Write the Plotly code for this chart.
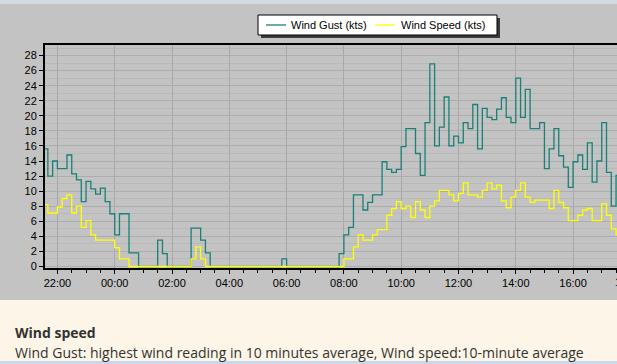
import pandas as pd
import plotly.graph_objects as go

# 10-minute readings starting 21:30
start_time = "2020-01-01 21:30"
wind_gust = [
    15.6, 12.0, 14.0, 13.0, 13.0, 14.8, 12.3, 11.5, 8.6, 11.3,
    10.3, 9.6, 10.4, 8.6, 7.0, 4.2, 7.0, 7.0, 1.8, 1.8,
    0, 0, 0, 0, 3.5, 1.7, 0, 0, 0, 0,
    0, 5.1, 5.1, 3.5, 1.8, 0, 0, 0, 0, 0,
    0, 0, 0, 0, 0, 0, 0, 0, 0, 0,
    1.0, 0, 0, 0, 0, 0, 0, 0, 0, 0,
    0, 0, 1.7, 4.2, 5.2, 9.5, 9.5, 7.5, 8.5, 9.5,
    9.5, 13.9, 12.9, 12.5, 12.9, 15.9, 18.3, 18.3, 15.0, 12.1,
    19.1, 26.9, 16.0, 18.5, 22.5, 16.0, 17.3, 16.4, 19.1, 18.3,
    21.5, 15.6, 21.0, 19.8, 19.5, 20.9, 22.4, 19.8, 19.1, 25.0,
    19.8, 23.5, 18.3, 18.3, 19.1, 13.0, 15.6, 18.3, 14.7, 13.2,
    10.5, 13.9, 14.8, 12.9, 16.4, 11.2, 14.0, 19.1, 12.5, 8.0,
    12.1, 12.0,
]
wind_speed = [
    8.2, 7.1, 7.1, 7.9, 9.0, 9.5, 7.1, 8.0, 5.2, 6.1,
    4.2, 3.5, 3.5, 3.5, 3.5, 2.5, 1.0, 1.0, 0, 0,
    0, 0, 0, 0, 0, 0, 0, 0, 0, 0,
    0, 1.0, 2.6, 1.0, 0, 0, 0, 0, 0, 0,
    0, 0, 0, 0, 0, 0, 0, 0, 0, 0,
    0, 0, 0, 0, 0, 0, 0, 0, 0, 0,
    0, 0, 0, 1.0, 1.0, 2.6, 4.2, 3.5, 3.5, 4.2,
    4.9, 4.9, 6.8, 7.7, 8.6, 7.7, 8.0, 6.5, 8.6, 7.5,
    6.5, 8.0, 8.7, 10.1, 10.1, 9.5, 8.7, 9.7, 11.1, 9.5,
    9.5, 9.2, 10.1, 11.1, 10.3, 10.8, 8.7, 7.8, 9.2, 10.1,
    11.1, 9.2, 8.5, 8.8, 8.8, 8.8, 7.7, 10.1, 8.5, 7.8,
    6.1, 6.1, 6.8, 7.5, 7.7, 6.1, 6.1, 8.3, 6.8, 5.0,
    4.2, 4.2,
]
series_names = ["Wind Gust (kts)", "Wind Speed (kts)"]
series_colors = ["#1a8078", "#ffff00"]
title_text = "Wind speed"
note_text = "Wind Gust: highest wind reading in 10 minutes average, Wind speed:10-minute average"
cut_tick_label = "18:00"

times = pd.date_range(start_time, periods=len(wind_gust), freq="10min")

W, H = 617, 364
ML, MR, MT, MB = 45, 0, 45, 96
PW, PH = W - ML - MR, H - MT - MB


def px(x):
    return (x - ML) / PW


def py(y):
    return (H - MB - y) / PH


fig = go.Figure()
for vals, name, col in zip([wind_gust, wind_speed], series_names, series_colors):
    fig.add_trace(go.Scatter(x=times, y=vals, name=name, mode="lines",
                             line=dict(color=col, width=1.3, shape="hv"), showlegend=False))

grey = "#c3c3c3"
shapes = [
    dict(type="rect", xref="paper", yref="paper", x0=px(0), x1=px(W + 2), y0=py(H), y1=py(300),
         fillcolor="#fdf5e7", line=dict(width=0), layer="below"),
    dict(type="rect", xref="paper", yref="paper", x0=px(0), x1=px(W + 2), y0=py(H), y1=py(361),
         fillcolor="#c9d9ea", line=dict(width=0), layer="below"),
    dict(type="rect", xref="paper", yref="paper", x0=px(0), x1=px(W + 2), y0=py(4), y1=py(0),
         fillcolor="#d3d9e0", line=dict(width=0), layer="below"),
    # legend: shadow, box, line samples
    dict(type="rect", xref="paper", yref="paper", x0=px(261), x1=px(500), y0=py(38), y1=py(18),
         fillcolor="#3a3a3a", line=dict(width=0), layer="above"),
    dict(type="rect", xref="paper", yref="paper", x0=px(258), x1=px(497), y0=py(35), y1=py(15),
         fillcolor="#ffffff", line=dict(width=1, color="#000000"), layer="above"),
    dict(type="line", xref="paper", yref="paper", x0=px(266), x1=px(286), y0=py(25), y1=py(25),
         line=dict(width=1.3, color=series_colors[0]), layer="above"),
    dict(type="line", xref="paper", yref="paper", x0=px(375), x1=px(395), y0=py(25), y1=py(25),
         line=dict(width=1.3, color=series_colors[1]), layer="above"),
]

annotations = [
    dict(text="<b>" + title_text + "</b>", xref="paper", yref="paper", x=px(13), y=py(332),
         xanchor="left", yanchor="middle", showarrow=False,
         font=dict(family="Open Sans, sans-serif", size=14, color="#333333")),
    dict(text=note_text, xref="paper", yref="paper", x=px(13), y=py(352),
         xanchor="left", yanchor="middle", showarrow=False,
         font=dict(family="Open Sans, sans-serif", size=14, color="#333333")),
    dict(text=series_names[0], xref="paper", yref="paper", x=px(289), y=py(25),
         xanchor="left", yanchor="middle", showarrow=False,
         font=dict(size=11, color="#000000")),
    dict(text=series_names[1], xref="paper", yref="paper", x=px(399), y=py(25),
         xanchor="left", yanchor="middle", showarrow=False,
         font=dict(size=11, color="#000000")),
    dict(text=cut_tick_label, xref="paper", yref="paper", x=px(628.5), y=py(282),
         xanchor="center", yanchor="middle", showarrow=False,
         font=dict(size=11, color="#000000")),
]

fig.update_layout(
    width=W, height=H,
    margin=dict(l=ML, r=MR, t=MT, b=MB, pad=0),
    paper_bgcolor=grey, plot_bgcolor=grey,
    font=dict(family="Liberation Sans, Arial, sans-serif", size=11, color="#000000"),
    showlegend=False,
    shapes=shapes,
    annotations=annotations,
)

fig.update_xaxes(
    type="date",
    range=["2020-01-01 21:34", "2020-01-02 17:32"],
    tick0="2020-01-01 22:00", dtick=2 * 3600 * 1000, tickformat="%H:%M",
    ticks="outside", ticklen=4, tickcolor="#000000", tickwidth=1,
    showline=True, linecolor="#000000", linewidth=2, mirror=True,
    showgrid=True, gridcolor="#a8a8a8", gridwidth=1,
    minor=dict(dtick=30 * 60 * 1000, ticks="outside", ticklen=3, tickcolor="#000000", showgrid=False),
    zeroline=False,
)
fig.update_yaxes(
    range=[-0.2, 29.4], tick0=0, dtick=2,
    ticks="outside", ticklen=4, tickcolor="#000000",
    showline=True, linecolor="#000000", linewidth=2, mirror=False,
    showgrid=True, gridcolor="#adadad", gridwidth=1,
    minor=dict(dtick=1, showgrid=True, gridcolor="#b9b9b9", ticks=""),
    zeroline=False,
)

fig.write_html("out.html")
